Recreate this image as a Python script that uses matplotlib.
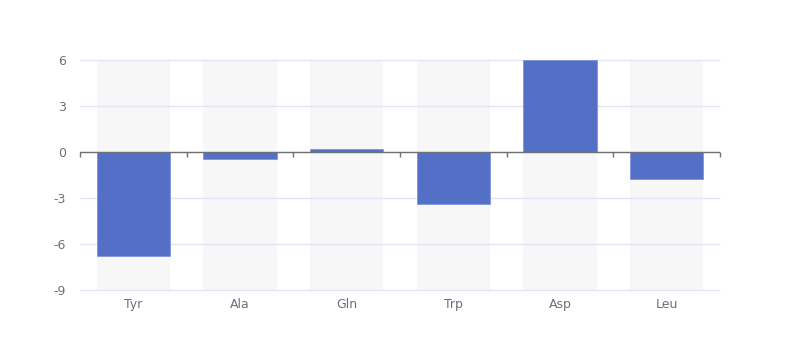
import matplotlib
matplotlib.use("Agg")
import matplotlib.pyplot as plt
import numpy as np

plt.rcParams['axes.unicode_minus'] = False

# Chart data
categories = ['Tyr', 'Ala', 'Gln', 'Trp', 'Asp', 'Leu']
values = [-6.78, -0.47, 0.22, -3.38, 6.0, -1.77]
y_ticks = [-9, -6, -3, 0, 3, 6]

bar_color = '#5470c6'
text_color = '#6E7079'
grid_color = '#E0E6F1'

fig = plt.figure(figsize=(8, 3.6), dpi=100)
ax = fig.add_axes([0.1, 70 / 360, 0.8, 230 / 360])

ymin, ymax = y_ticks[0], y_ticks[-1]
x = np.arange(len(categories))
width = 0.69

# background bars
ax.bar(x, ymax - ymin, bottom=ymin, width=width, color='#f7f7f7', zorder=1, linewidth=0)
# data bars
ax.bar(x, values, width=width, color=bar_color, edgecolor='#7f95dc', linewidth=0.6, zorder=3)

ax.set_xlim(-0.5, len(categories) - 0.5)
ax.set_ylim(ymin, ymax)
ax.set_yticks(y_ticks)
# grid lines drawn by hand so the edge ones are not clipped
ax.hlines(y_ticks, -0.5, len(categories) - 0.5, color=grid_color, linewidth=1,
          zorder=2, clip_on=False)
for s in ax.spines.values():
    s.set_visible(False)
ax.tick_params(axis='y', length=0, pad=10, labelcolor=text_color, labelsize=9)
ax.set_xticks(x)
ax.set_xticklabels(categories)
ax.tick_params(axis='x', length=0, pad=6, labelcolor=text_color, labelsize=9)

# category axis line at zero with boundary ticks pointing down
ax.axhline(0, color=text_color, linewidth=1, zorder=4)
tick_len = 5 * (ymax - ymin) / 230
ax.vlines(np.arange(len(categories) + 1) - 0.5, -tick_len, 0, color=text_color,
          linewidth=1, zorder=4, clip_on=False)

fig.savefig('out.png', dpi=100)
